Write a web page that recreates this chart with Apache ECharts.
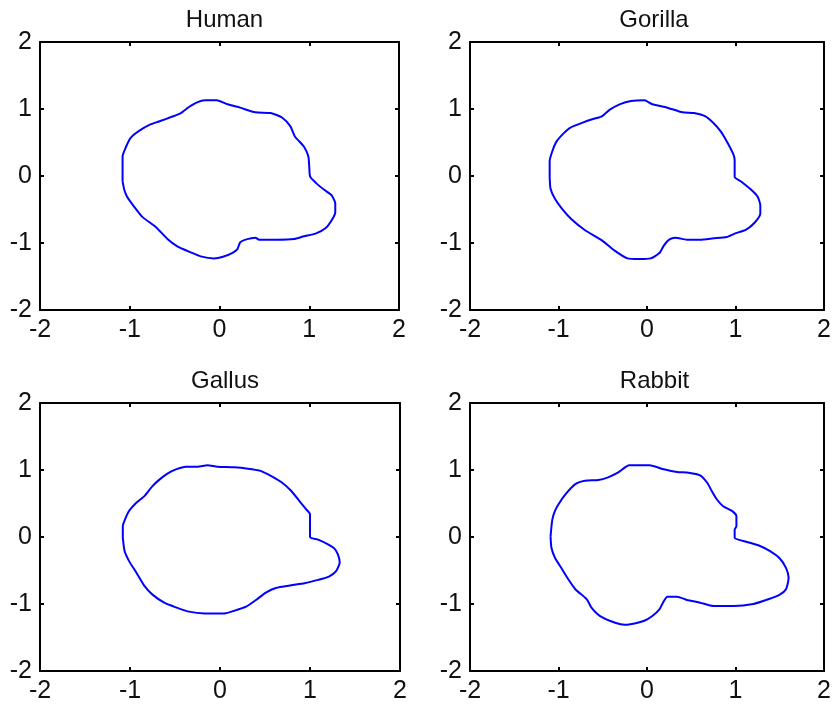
<!DOCTYPE html>
<html>
<head>
<meta charset="utf-8">
<script src="https://cdn.jsdelivr.net/npm/echarts@6/dist/echarts.min.js"></script>
<style>
  html, body { margin: 0; padding: 0; background: #fff; }
  #main { width: 834px; height: 707px; }
</style>
</head>
<body>
<div id="main"></div>
<script>
var names = ['Human', 'Gorilla', 'Gallus', 'Rabbit'];
var ticks = [-2, -1, 0, 1, 2];

// outline points [x, y]
var human = [
  [-1.08, -0.08], [-1.08, 0.29], [-1.04, 0.44], [-0.99, 0.57], [-0.90, 0.67], [-0.77, 0.77],
  [-0.66, 0.82], [-0.54, 0.88], [-0.43, 0.94], [-0.34, 1.03], [-0.25, 1.10], [-0.16, 1.13],
  [-0.03, 1.13], [0.09, 1.07], [0.23, 1.02], [0.40, 0.95], [0.57, 0.94], [0.70, 0.87],
  [0.79, 0.74], [0.84, 0.59], [0.94, 0.44], [0.99, 0.29], [1.00, 0.14], [1.01, -0.01],
  [1.08, -0.11], [1.17, -0.21], [1.25, -0.29], [1.29, -0.41], [1.29, -0.54], [1.25, -0.66],
  [1.18, -0.78], [1.07, -0.86], [0.94, -0.90], [0.83, -0.94], [0.64, -0.95], [0.44, -0.95],
  [0.40, -0.92], [0.29, -0.95], [0.23, -0.99], [0.20, -1.09], [0.14, -1.15], [0.03, -1.21],
  [-0.06, -1.23], [-0.21, -1.20], [-0.32, -1.14], [-0.47, -1.05], [-0.58, -0.94], [-0.71, -0.76],
  [-0.86, -0.61], [-0.95, -0.46], [-1.03, -0.31], [-1.06, -0.21], [-1.08, -0.08]
];
var gorilla = [
  [-1.10, -0.01], [-1.10, 0.22], [-1.07, 0.37], [-1.02, 0.52], [-0.94, 0.64], [-0.87, 0.72],
  [-0.72, 0.80], [-0.61, 0.85], [-0.51, 0.89], [-0.42, 0.99], [-0.31, 1.07], [-0.18, 1.12],
  [-0.03, 1.13], [0.06, 1.07], [0.23, 1.02], [0.40, 0.95], [0.53, 0.94], [0.66, 0.89],
  [0.75, 0.79], [0.83, 0.67], [0.90, 0.52], [0.97, 0.34], [0.99, 0.24], [0.99, -0.01],
  [1.07, -0.09], [1.18, -0.21], [1.25, -0.31], [1.28, -0.44], [1.28, -0.56], [1.22, -0.69],
  [1.12, -0.80], [0.99, -0.86], [0.90, -0.91], [0.75, -0.93], [0.60, -0.95], [0.45, -0.95],
  [0.32, -0.92], [0.25, -0.95], [0.19, -1.04], [0.14, -1.15], [0.04, -1.23], [-0.09, -1.24],
  [-0.22, -1.23], [-0.37, -1.11], [-0.51, -0.96], [-0.70, -0.81], [-0.85, -0.65], [-0.96, -0.49],
  [-1.04, -0.34], [-1.09, -0.19], [-1.10, -0.01]
];
var gallus = [
  [-1.08, -0.01], [-1.08, 0.16], [-1.04, 0.31], [-1.01, 0.39], [-0.93, 0.51], [-0.84, 0.61],
  [-0.75, 0.76], [-0.67, 0.86], [-0.58, 0.95], [-0.49, 1.01], [-0.38, 1.05], [-0.25, 1.05],
  [-0.14, 1.07], [-0.03, 1.05], [0.16, 1.04], [0.31, 1.02], [0.44, 0.99], [0.57, 0.91],
  [0.68, 0.82], [0.79, 0.69], [0.88, 0.54], [0.96, 0.41], [1.00, 0.34], [1.00, 0.00],
  [1.09, -0.04], [1.20, -0.11], [1.27, -0.17], [1.31, -0.26], [1.33, -0.38], [1.29, -0.51],
  [1.21, -0.59], [1.09, -0.64], [0.94, -0.69], [0.79, -0.72], [0.62, -0.76], [0.51, -0.83],
  [0.40, -0.94], [0.29, -1.04], [0.16, -1.10], [0.05, -1.14], [-0.17, -1.14], [-0.36, -1.11],
  [-0.49, -1.05], [-0.62, -0.98], [-0.75, -0.86], [-0.84, -0.73], [-0.93, -0.53], [-1.01, -0.36],
  [-1.06, -0.21], [-1.08, -0.01]
];
var rabbit = [
  [-1.09, 0.01], [-1.07, 0.26], [-1.04, 0.39], [-1.00, 0.49], [-0.92, 0.64], [-0.81, 0.79],
  [-0.70, 0.84], [-0.55, 0.85], [-0.44, 0.89], [-0.33, 0.96], [-0.20, 1.07], [0.03, 1.07],
  [0.19, 1.01], [0.34, 0.97], [0.47, 0.96], [0.60, 0.92], [0.68, 0.81], [0.73, 0.69],
  [0.79, 0.56], [0.86, 0.46], [0.96, 0.39], [1.01, 0.31], [1.01, 0.16], [0.99, 0.11],
  [0.99, -0.01], [1.12, -0.07], [1.27, -0.13], [1.39, -0.21], [1.50, -0.32], [1.57, -0.46],
  [1.60, -0.61], [1.57, -0.78], [1.50, -0.86], [1.37, -0.93], [1.20, -1.00], [0.98, -1.03],
  [0.75, -1.03], [0.60, -0.98], [0.45, -0.94], [0.34, -0.89], [0.23, -0.89], [0.18, -0.98],
  [0.14, -1.08], [0.06, -1.18], [-0.03, -1.25], [-0.14, -1.29], [-0.25, -1.31], [-0.36, -1.28],
  [-0.53, -1.18], [-0.63, -1.05], [-0.68, -0.93], [-0.81, -0.78], [-0.89, -0.63], [-0.96, -0.48],
  [-1.04, -0.31], [-1.08, -0.16], [-1.09, 0.01]
];
var outlines = [human, gorilla, gallus, rabbit];

var chart = echarts.init(document.getElementById('main'));

var grids = [
  {left: 40, top: 42, width: 359, height: 268},
  {left: 470, top: 42, width: 358, height: 268},
  {left: 40, top: 403, width: 360, height: 268},
  {left: 470, top: 403, width: 359, height: 268}
];
var font = 'Arial, "Liberation Sans", sans-serif';
var lineStyle = {color: '#000', width: 2};

var xAxes = [], yAxes = [], series = [], titles = [];
for (var i = 0; i < 4; i++) {
  var g = grids[i];
  titles.push({
    text: names[i],
    left: g.left + g.width / 2,
    top: g.top - 39,
    textAlign: 'center',
    textStyle: {fontFamily: font, fontSize: 24, fontWeight: 'normal', color: '#111'}
  });
  // bottom / left axes with labels
  xAxes.push({
    gridIndex: i, type: 'value', min: ticks[0], max: ticks[4], interval: 1,
    position: 'bottom',
    axisLine: {onZero: false, lineStyle: lineStyle},
    axisTick: {inside: true, length: 4, lineStyle: lineStyle},
    axisLabel: {fontFamily: font, fontSize: 25, color: '#111', margin: 8,
      showMinLabel: true, showMaxLabel: true},
    splitLine: {show: false}
  });
  yAxes.push({
    gridIndex: i, type: 'value', min: ticks[0], max: ticks[4], interval: 1,
    position: 'left',
    axisLine: {onZero: false, lineStyle: lineStyle},
    axisTick: {inside: true, length: 4, lineStyle: lineStyle},
    axisLabel: {fontFamily: font, fontSize: 25, color: '#111', margin: 8,
      showMinLabel: true, showMaxLabel: true},
    splitLine: {show: false}
  });
}
// top / right box edges with inward ticks
for (var j = 0; j < 4; j++) {
  xAxes.push({
    gridIndex: j, type: 'value', min: ticks[0], max: ticks[4], interval: 1,
    position: 'top',
    axisLine: {onZero: false, lineStyle: lineStyle},
    axisTick: {inside: true, length: 4, lineStyle: lineStyle},
    axisLabel: {show: false},
    splitLine: {show: false}
  });
  yAxes.push({
    gridIndex: j, type: 'value', min: ticks[0], max: ticks[4], interval: 1,
    position: 'right',
    axisLine: {onZero: false, lineStyle: lineStyle},
    axisTick: {inside: true, length: 4, lineStyle: lineStyle},
    axisLabel: {show: false},
    splitLine: {show: false}
  });
  series.push({
    name: names[j],
    type: 'line',
    xAxisIndex: j,
    yAxisIndex: j,
    data: outlines[j],
    showSymbol: false,
    smooth: 0.2,
    lineStyle: {color: '#0000ff', width: 2},
    animation: false
  });
}

option = {
  backgroundColor: '#fff',
  animation: false,
  title: titles,
  grid: grids,
  xAxis: xAxes,
  yAxis: yAxes,
  series: series
};
chart.setOption(option);
</script>
</body>
</html>
